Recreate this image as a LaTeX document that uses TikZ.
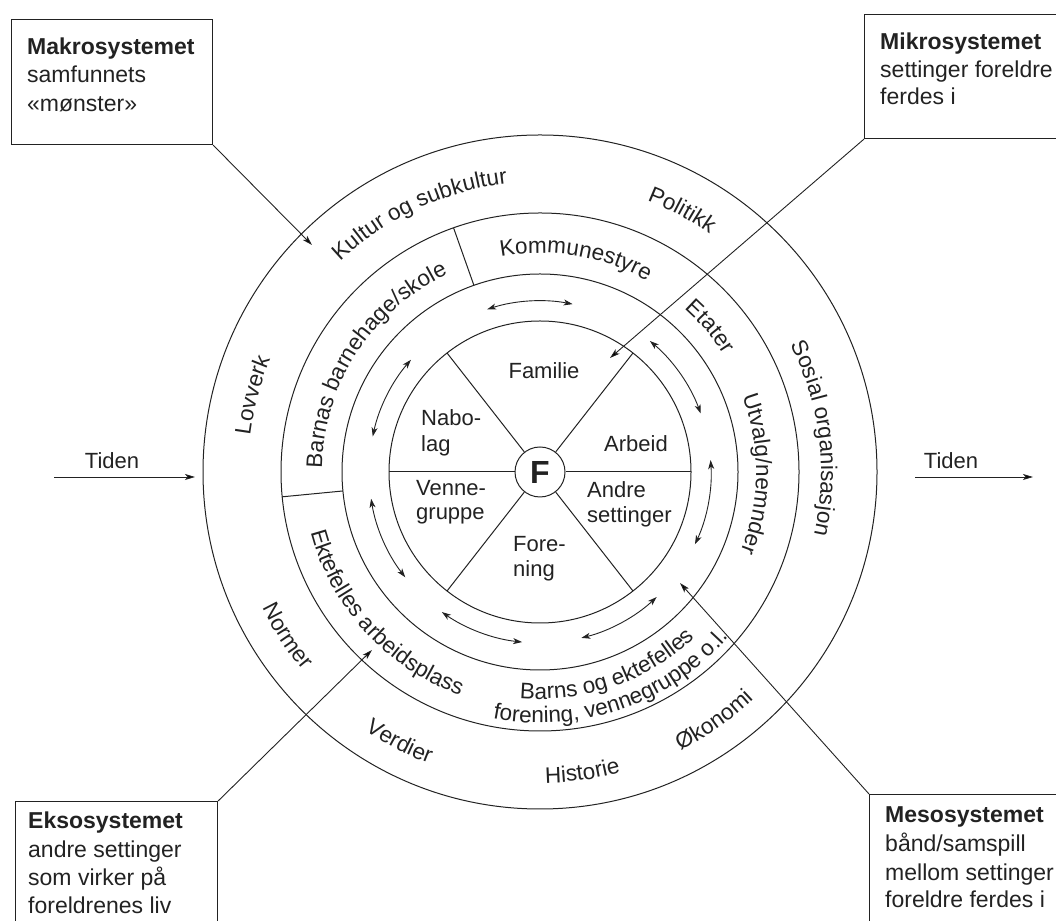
\documentclass[tikz,border=0pt]{standalone}
\usepackage{fontspec}
\setmainfont{Liberation Sans}
\usetikzlibrary{arrows.meta,decorations.text,calc}
\newcommand\ringfont{\fontsize{22.5}{27}\selectfont}
\newcommand\secfont{\fontsize{22}{26}\selectfont}
\newcommand\boxfont{\fontsize{23}{28}\selectfont}
\newcommand\cwtext[3]{\path[decorate,decoration={text along path,text align=center,text color=ink,text={|\ringfont|#3}}] ([shift={({#1+70}:#2)}]C) arc[start angle={#1+70},end angle={#1-70},radius=#2pt];}
\newcommand\ccwtext[3]{\path[decorate,decoration={text along path,text align=center,text color=ink,text={|\ringfont|#3}}] ([shift={({#1-70}:#2)}]C) arc[start angle={#1-70},end angle={#1+70},radius=#2pt];}
\definecolor{ink}{HTML}{222222}
\begin{document}
\begin{tikzpicture}[x=1pt,y=1pt,
  line/.style={draw=ink,line width=1pt},
  biarrow/.style={draw=ink,line width=0.9pt,{Stealth[length=9pt,width=6pt,inset=2.5pt]}-{Stealth[length=9pt,width=6pt,inset=2.5pt]}},
  callout/.style={draw=ink,line width=0.9pt,-{Stealth[length=10pt,width=6pt,inset=2.5pt]}},
  boxst/.style={draw=ink,line width=1.1pt,inner sep=0pt},
  boxtitle/.style={anchor=base west,inner sep=0pt,text=ink,font=\boxfont\bfseries},
  boxline/.style={anchor=base west,inner sep=0pt,text=ink,font=\boxfont},
  sectext/.style={anchor=base west,inner sep=0pt,text=ink,font=\secfont}]
\useasboundingbox (0,0) rectangle (1056,920);
\coordinate (C) at (540,448);
% circles
\draw[line] (C) circle[radius=337pt];
\draw[line] (C) circle[radius=259pt];
\draw[line] (C) circle[radius=198pt];
\draw[line] (C) circle[radius=151pt];
% ring 2 dividers
\draw[line] ([shift={(109.5:198)}]C) -- ([shift={(109.5:259)}]C);
\draw[line] ([shift={(185.5:198)}]C) -- ([shift={(185.5:259)}]C);
% centre
\node[circle,draw=ink,line width=1pt,minimum size=50pt,inner sep=0pt,text=ink,font=\bfseries\fontsize{32}{32}\selectfont] (F) at (C) {F};
\foreach \a in {0,52,128,180,232,308}
  \draw[line] (F.\a) -- ([shift={(\a:151)}]C);
% sector texts
\node[sectext,anchor=base] (familie) at (544,541) {Familie};
\node[sectext] (nabo1) at (421,494) {Nabo-};
\node[sectext] (nabo2) at (421,468) {lag};
\node[sectext,anchor=base] (arbeid) at (636,468) {Arbeid};
\node[sectext] (venne1) at (416,424) {Venne-};
\node[sectext] (venne2) at (416,400) {gruppe};
\node[sectext] (andre1) at (587,422) {Andre};
\node[sectext] (andre2) at (587,397) {settinger};
\node[sectext] (fore1) at (513,368) {Fore-};
\node[sectext] (fore2) at (513,343) {ning};
% ring 3 arrows
\foreach \s/\e in {79/108,139/168,20/50,-25/4,-76/-47,189/218,235/264}
  \draw[biarrow] ([shift={(\s:171)}]C) arc[start angle=\s,end angle=\e,radius=171pt];
% outer ring texts
\cwtext{115}{290}{Kultur og subkultur}
\cwtext{61.5}{292}{Politikk}
\cwtext{7}{281}{Sosial organisasjon}
\cwtext{165}{292}{Lovverk}
\ccwtext{213}{309}{Normer}
\ccwtext{242.5}{312}{Verdier}
\ccwtext{278}{311}{Historie}
\ccwtext{305}{312}{Økonomi}
% ring 2 texts
\cwtext{147}{218}{Barnas barnehage/skole}
\cwtext{80.5}{219}{Kommunestyre}
\cwtext{40.5}{218}{Etater}
\cwtext{-0.5}{216}{Utvalg/nemnder}
\ccwtext{-71}{227}{Barns og ektefelles}
\ccwtext{-71}{251}{forening, vennegruppe o.l.}
\ccwtext{222.5}{237}{Ektefelles arbeidsplass}
% Tiden
\node[anchor=base,inner sep=0pt,text=ink,font=\secfont] (tidenL) at (112,451) {Tiden};
\coordinate (tLa) at (54,443);
\coordinate (tLb) at (195,443);
\draw[callout] (tLa) -- (tLb);
\node[anchor=base,inner sep=0pt,text=ink,font=\secfont] (tidenR) at (951,451) {Tiden};
\coordinate (tRa) at (915,443);
\coordinate (tRb) at (1033,443);
\draw[callout] (tRa) -- (tRb);
% boxes
\node[boxst,minimum width=201pt,minimum height=125pt,anchor=north west] (makro) at (11,901) {};
\node[boxtitle] (makro1) at (27,865) {Makrosystemet};
\node[boxline] (makro2) at (27,837) {samfunnets};
\node[boxline] (makro3) at (27,808) {«mønster»};
\coordinate (makrotip) at (312,675);
\draw[callout] (makro.south east) -- (makrotip);

\node[boxst,minimum width=230pt,minimum height=124pt,anchor=north west] (mikro) at (864,906) {};
\node[boxtitle] (mikro1) at (880,870) {Mikrosystemet};
\node[boxline] (mikro2) at (880,842) {settinger foreldre};
\node[boxline] (mikro3) at (880,815) {ferdes i};
\coordinate (mikrotip) at (610,562);
\draw[callout] (mikro.south west) -- (mikrotip);

\node[boxst,minimum width=202pt,minimum height=160pt,anchor=north west] (ekso) at (15,119) {};
\node[boxtitle] (ekso1) at (28,92) {Eksosystemet};
\node[boxline] (ekso2) at (28,63) {andre settinger};
\node[boxline] (ekso3) at (28,35) {som virker på};
\node[boxline] (ekso4) at (28,7) {foreldrenes liv};
\coordinate (eksotip) at (372,270);
\draw[callout] (ekso.north east) -- (eksotip);

\node[boxst,minimum width=220pt,minimum height=160pt,anchor=north west] (meso) at (869,126) {};
\node[boxtitle] (meso1) at (885,97) {Mesosystemet};
\node[boxline] (meso2) at (885,68) {bånd/samspill};
\node[boxline] (meso3) at (885,40) {mellom settinger};
\node[boxline] (meso4) at (885,13) {foreldre ferdes i};
\coordinate (mesotip) at (680,337);
\draw[callout] (meso.north west) -- (mesotip);
\end{tikzpicture}
\end{document}
